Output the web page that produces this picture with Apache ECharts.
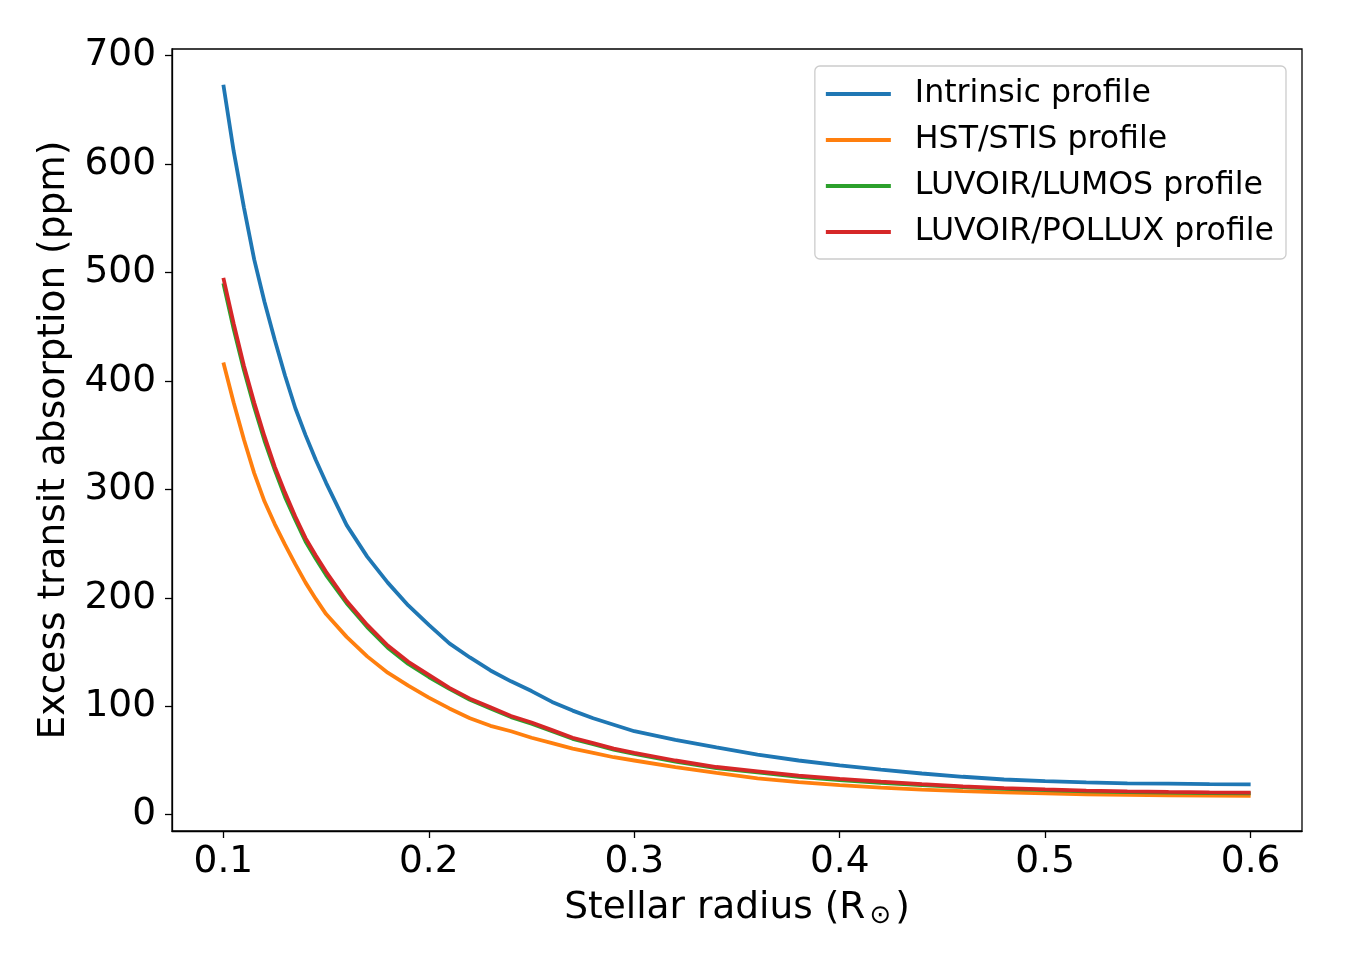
<!DOCTYPE html>
<html>
<head>
<meta charset="utf-8">
<script src="https://cdn.jsdelivr.net/npm/echarts@6/dist/echarts.min.js"></script>
<style>
  html, body { margin: 0; padding: 0; background: #fff; }
  #chart { width: 1350px; height: 975px; }
</style>
</head>
<body>
<div id="chart"></div>
<script>
// stellar radius (R_sun), shared by all four curves
const radius = [0.1, 0.105, 0.11, 0.115, 0.12, 0.125, 0.13, 0.135, 0.14, 0.145,
  0.15, 0.16, 0.17, 0.18, 0.19, 0.2, 0.21, 0.22, 0.23, 0.24,
  0.25, 0.26, 0.27, 0.28, 0.29, 0.3, 0.32, 0.34, 0.36, 0.38,
  0.4, 0.42, 0.44, 0.46, 0.48, 0.5, 0.52, 0.54, 0.56, 0.58, 0.6];

// excess transit absorption (ppm)
const intrinsic = [673, 612, 560, 512, 473, 438, 405, 375, 350, 327,
  306, 267, 238, 214, 193, 175, 158, 145, 133, 123,
  114, 104, 96, 89, 83, 77, 69, 62, 55.5, 50,
  45.5, 41.5, 38, 35, 32.5, 31, 29.8, 29, 28.6, 28.2, 28];
const stis = [417, 380, 346, 315, 289, 268, 249, 231, 214, 199,
  185, 164, 146, 131, 119, 108, 98, 89, 82, 77,
  71, 66, 61, 57, 53, 50, 44, 38.5, 33.5, 30,
  27.3, 25, 23.2, 21.8, 20.7, 19.6, 18.8, 18.3, 17.9, 17.6, 17.4];
const lumos = [490, 448, 410, 376, 345, 318, 293, 272, 252, 236,
  221, 195, 173, 154, 139, 127, 116, 106, 98, 90,
  84, 77, 70, 65, 60, 56, 49, 43, 39, 35,
  32, 29.5, 27.4, 25.4, 23.8, 22.6, 21.6, 20.9, 20.3, 19.9, 19.6];
const pollux = [495, 453, 414, 380, 349, 321, 297, 275, 255, 239,
  224, 197, 175, 156, 141, 129, 117, 107, 99, 91,
  85, 78, 71, 66, 61, 57, 50, 44, 40, 36,
  33, 30.5, 28.3, 26.2, 24.5, 23.3, 22.3, 21.6, 21, 20.6, 20.3];

const xTicks = [0.1, 0.2, 0.3, 0.4, 0.5, 0.6];
const yTicks = [0, 100, 200, 300, 400, 500, 600, 700];

const names = ['Intrinsic profile', 'HST/STIS profile', 'LUVOIR/LUMOS profile', 'LUVOIR/POLLUX profile'];
const values = [intrinsic, stis, lumos, pollux];
const colors = ['#1f77b4', '#ff7f0e', '#2ca02c', '#d62728'];

const font = 'DejaVu Sans';

const chart = echarts.init(document.getElementById('chart'), null, { renderer: 'canvas' });

chart.setOption({
  animation: false,
  backgroundColor: '#fff',
  grid: {
    left: 172, right: 48, top: 49, bottom: 144,
    show: true, borderColor: '#000', borderWidth: 1.3, backgroundColor: 'transparent'
  },
  legend: {
    orient: 'vertical',
    right: 64, top: 66,
    padding: [11, 12, 10, 11],
    itemGap: 12,
    itemWidth: 65, itemHeight: 4,
    icon: 'rect',
    backgroundColor: 'rgba(255,255,255,0.8)',
    borderColor: '#cccccc', borderWidth: 1.3, borderRadius: 5,
    textStyle: { fontFamily: font, fontSize: 31.6, color: '#000', lineHeight: 34, padding: [0, 0, 0, 19] },
    data: names
  },
  xAxis: {
    type: 'value',
    min: 0.075, max: 0.625,
    name: 'Stellar radius (R{sub|⊙})',
    nameLocation: 'middle',
    nameGap: 57,
    nameTextStyle: {
      fontFamily: font, fontSize: 37.5, color: '#000',
      rich: { sub: { fontFamily: font, fontSize: 26, color: '#000', padding: [15, 4, 0, 4] } }
    },
    splitLine: { show: false },
    axisLine: { show: true, onZero: false, lineStyle: { color: '#000', width: 1.3 } },
    axisTick: { show: true, length: 7, lineStyle: { color: '#000', width: 1.3 }, customValues: xTicks },
    axisLabel: {
      fontFamily: font, fontSize: 37.5, color: '#000', margin: 12,
      customValues: xTicks,
      formatter: v => v.toFixed(1)
    }
  },
  yAxis: {
    type: 'value',
    min: -15, max: 706,
    name: 'Excess transit absorption (ppm)',
    nameLocation: 'middle',
    nameGap: 95,
    nameTextStyle: { fontFamily: font, fontSize: 37.5, color: '#000' },
    splitLine: { show: false },
    axisLine: { show: true, onZero: false, lineStyle: { color: '#000', width: 1.3 } },
    axisTick: { show: true, length: 7, lineStyle: { color: '#000', width: 1.3 }, customValues: yTicks },
    axisLabel: {
      fontFamily: font, fontSize: 37.5, color: '#000', margin: 16,
      padding: [6, 0, 0, 0],
      customValues: yTicks
    }
  },
  series: names.map((name, i) => ({
    name: name,
    type: 'line',
    data: radius.map((r, j) => [r, values[i][j]]),
    showSymbol: false,
    symbol: 'none',
    color: colors[i],
    lineStyle: { width: 3.8, color: colors[i] },
    z: 2 + i
  }))
});
</script>
</body>
</html>
